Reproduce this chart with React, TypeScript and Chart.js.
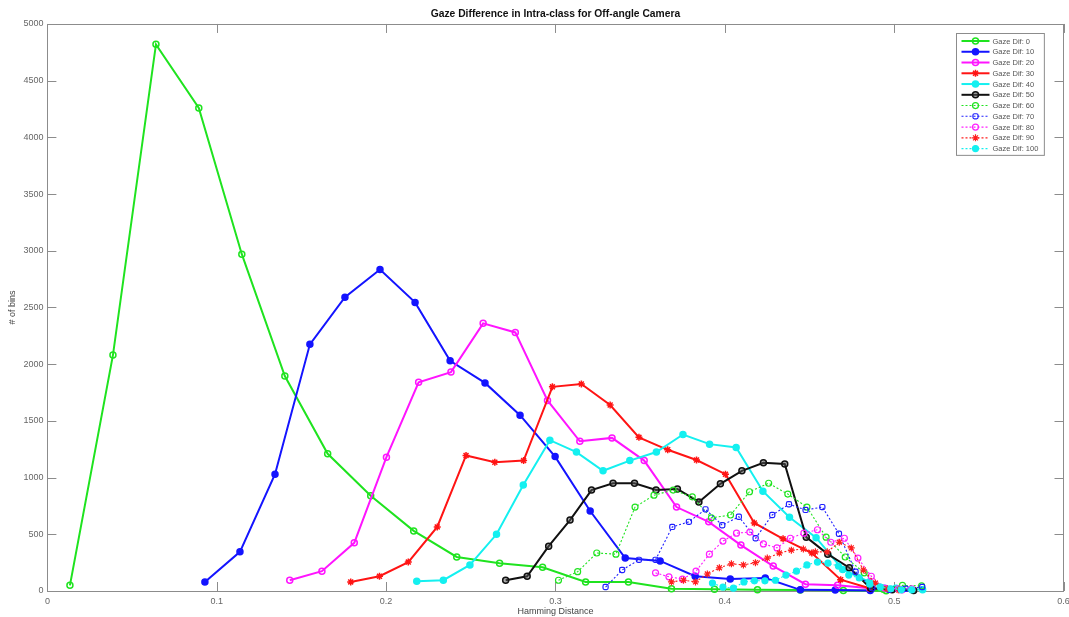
import React, { useEffect, useRef } from "react";
import { Chart, registerables } from "chart.js";
import { drawPoint } from "chart.js/helpers";

Chart.register(...registerables);

const TITLE = "Gaze Difference in Intra-class for Off-angle Camera";
const X_LABEL = "Hamming Distance";
const Y_LABEL = "# of bins";
const SERIES_NAMES = [
  "Gaze Dif: 0", "Gaze Dif: 10", "Gaze Dif: 20", "Gaze Dif: 30", "Gaze Dif: 40",
  "Gaze Dif: 50", "Gaze Dif: 60", "Gaze Dif: 70", "Gaze Dif: 80", "Gaze Dif: 90", "Gaze Dif: 100",
];

const xDif0 = [0.0133, 0.0387, 0.0641, 0.0894, 0.1148, 0.1402, 0.1655, 0.1909, 0.2163, 0.2417, 0.2670, 0.2924, 0.3178, 0.3431, 0.3685, 0.3939, 0.4193, 0.4446, 0.4700, 0.4953];
const yDif0 = [50, 2080, 4820, 4260, 2970, 1895, 1210, 840, 530, 300, 245, 210, 80, 80, 20, 15, 10, 8, 5, 3];

const xDif10 = [0.0930, 0.1137, 0.1344, 0.1550, 0.1757, 0.1964, 0.2171, 0.2378, 0.2584, 0.2791, 0.2998, 0.3205, 0.3412, 0.3618, 0.3825, 0.4032, 0.4239, 0.4446, 0.4652, 0.4859];
const yDif10 = [80, 345, 1030, 2175, 2590, 2835, 2545, 2030, 1835, 1550, 1185, 705, 290, 265, 130, 105, 115, 10, 8, 5];

const xDif20 = [0.1431, 0.1621, 0.1812, 0.2002, 0.2192, 0.2383, 0.2573, 0.2763, 0.2953, 0.3144, 0.3334, 0.3524, 0.3715, 0.3905, 0.4095, 0.4286, 0.4476, 0.4666, 0.4856, 0.5047];
const yDif20 = [95, 175, 425, 1180, 1840, 1930, 2360, 2280, 1680, 1320, 1350, 1150, 740, 610, 405, 220, 60, 50, 25, 10];

const xDif30 = [0.1791, 0.1961, 0.2131, 0.2302, 0.2472, 0.2642, 0.2812, 0.2982, 0.3153, 0.3323, 0.3493, 0.3663, 0.3833, 0.4004, 0.4174, 0.4344, 0.4514, 0.4684, 0.4855, 0.5025];
const yDif30 = [80, 130, 255, 565, 1195, 1135, 1150, 1800, 1825, 1640, 1355, 1245, 1155, 1030, 600, 460, 335, 100, 25, 10];

const xDif40 = [0.2181, 0.2338, 0.2495, 0.2652, 0.2810, 0.2967, 0.3124, 0.3281, 0.3439, 0.3596, 0.3753, 0.3910, 0.4067, 0.4225, 0.4382, 0.4539, 0.4696, 0.4853, 0.5011, 0.5168];
const yDif40 = [85, 95, 230, 500, 935, 1330, 1225, 1060, 1150, 1225, 1380, 1295, 1265, 880, 650, 470, 190, 80, 25, 10];

const xDif50 = [0.2706, 0.2833, 0.2960, 0.3086, 0.3213, 0.3340, 0.3467, 0.3594, 0.3720, 0.3847, 0.3974, 0.4101, 0.4228, 0.4354, 0.4481, 0.4608, 0.4735, 0.4862, 0.4988, 0.5115];
const yDif50 = [95, 130, 395, 625, 890, 950, 950, 890, 900, 785, 945, 1060, 1130, 1120, 475, 325, 205, 25, 10, 5];

const xDif60 = [0.3018, 0.3131, 0.3244, 0.3357, 0.3470, 0.3582, 0.3695, 0.3808, 0.3921, 0.4034, 0.4146, 0.4259, 0.4372, 0.4485, 0.4598, 0.4711, 0.4823, 0.4936, 0.5049, 0.5162];
const yDif60 = [95, 170, 335, 325, 740, 845, 890, 830, 645, 670, 875, 950, 855, 740, 475, 300, 160, 15, 50, 45];

const xDif70 = [0.3296, 0.3394, 0.3493, 0.3591, 0.3690, 0.3788, 0.3886, 0.3985, 0.4083, 0.4182, 0.4280, 0.4379, 0.4477, 0.4576, 0.4674, 0.4772, 0.4871, 0.4969, 0.5068, 0.5166];
const yDif70 = [35, 185, 275, 275, 565, 610, 720, 580, 655, 465, 670, 765, 715, 740, 505, 170, 25, 10, 20, 35];

const xDif80 = [0.3591, 0.3670, 0.3750, 0.3830, 0.3909, 0.3989, 0.4069, 0.4148, 0.4228, 0.4308, 0.4387, 0.4467, 0.4547, 0.4626, 0.4706, 0.4786, 0.4865, 0.4945, 0.5025, 0.5104];
const yDif80 = [160, 125, 105, 175, 325, 440, 510, 520, 415, 380, 465, 510, 540, 430, 465, 290, 130, 25, 20, 20];

const xDif90 = [0.3685, 0.3756, 0.3827, 0.3897, 0.3968, 0.4039, 0.4110, 0.4181, 0.4251, 0.4322, 0.4393, 0.4464, 0.4535, 0.4605, 0.4676, 0.4747, 0.4818, 0.4889, 0.4959, 0.5030];
const yDif90 = [80, 95, 80, 150, 205, 240, 230, 250, 290, 335, 360, 370, 345, 345, 430, 380, 185, 70, 20, 10];

const xDif100 = [0.3927, 0.3989, 0.4051, 0.4113, 0.4175, 0.4237, 0.4299, 0.4361, 0.4423, 0.4485, 0.4547, 0.4609, 0.4671, 0.4732, 0.4794, 0.4856, 0.4918, 0.4980, 0.5042, 0.5104];
const yDif100 = [70, 35, 25, 80, 90, 90, 95, 140, 175, 230, 255, 245, 220, 140, 115, 60, 35, 20, 10, 10];

const X_TICKS_MIN = 0;
const X_TICKS_MAX = 0.6;
const X_STEP = 0.1;
const Y_TICKS_MIN = 0;
const Y_TICKS_MAX = 5000;
const Y_STEP = 500;

const FONT = "'Liberation Sans', Arial, Helvetica, sans-serif";

const SERIES_X = [xDif0, xDif10, xDif20, xDif30, xDif40, xDif50, xDif60, xDif70, xDif80, xDif90, xDif100];
const SERIES_Y = [yDif0, yDif10, yDif20, yDif30, yDif40, yDif50, yDif60, yDif70, yDif80, yDif90, yDif100];

// style per series: color, solid/dashed, marker, filled
const STYLES = [
  { color: "#1fe31f", dashed: false, marker: "circle", fill: "rgba(255,255,255,0)" },
  { color: "#1414ff", dashed: false, marker: "circle", fill: "#1414ff" },
  { color: "#ff14ff", dashed: false, marker: "circle", fill: "rgba(255,255,255,0)" },
  { color: "#ff1414", dashed: false, marker: "star", fill: "#ff1414" },
  { color: "#14f0f0", dashed: false, marker: "circle", fill: "#14f0f0" },
  { color: "#111111", dashed: false, marker: "circle", fill: "rgba(90,90,90,0.5)" },
  { color: "#1fe31f", dashed: true, marker: "circle", fill: "rgba(255,255,255,0)" },
  { color: "#1f1fff", dashed: true, marker: "rectRounded", fill: "rgba(255,255,255,0)" },
  { color: "#ff1fff", dashed: true, marker: "circle", fill: "rgba(255,255,255,0)" },
  { color: "#ff1f1f", dashed: true, marker: "star", fill: "#ff1f1f" },
  { color: "#14f0f0", dashed: true, marker: "circle", fill: "#14f0f0" },
];

const framePlugin = {
  id: "matlabFrame",
  beforeDatasetsDraw(chart: any) {
    const { ctx, chartArea, scales } = chart;
    const { left, right, top, bottom } = chartArea;
    const x = scales.x;
    const y = scales.y;
    const TL = 9;
    ctx.save();
    ctx.strokeStyle = "#8c8c8c";
    ctx.lineWidth = 1;
    ctx.setLineDash([]);
    ctx.strokeRect(Math.round(left) + 0.5, Math.round(top) + 0.5, Math.round(right - left), Math.round(bottom - top));
    ctx.beginPath();
    x.ticks.forEach((t: any) => {
      const px = Math.round(x.getPixelForValue(t.value)) + 0.5;
      ctx.moveTo(px, bottom);
      ctx.lineTo(px, bottom - TL);
      ctx.moveTo(px, top);
      ctx.lineTo(px, top + TL);
    });
    y.ticks.forEach((t: any) => {
      const py = Math.round(y.getPixelForValue(t.value)) + 0.5;
      ctx.moveTo(left, py);
      ctx.lineTo(left + TL, py);
      ctx.moveTo(right, py);
      ctx.lineTo(right - TL, py);
    });
    ctx.stroke();
    ctx.restore();
  },
};

const legendPlugin = {
  id: "matlabLegend",
  afterDraw(chart: any) {
    const { ctx, chartArea } = chart;
    const datasets = chart.data.datasets;
    const fontSize = 7.5;
    ctx.save();
    ctx.font = `${fontSize}px ${FONT}`;
    let maxW = 0;
    datasets.forEach((d: any) => {
      maxW = Math.max(maxW, ctx.measureText(d.label).width);
    });
    const rowH = 10.76;
    const padL = 5;
    const lineLen = 28;
    const gap = 3;
    const boxW = padL + lineLen + gap + maxW + 6;
    const boxH = rowH * datasets.length + 3.5;
    const bx = Math.round(chartArea.right - 20 - boxW) + 0.5;
    const by = Math.round(chartArea.top + 9) + 0.5;
    ctx.fillStyle = "#ffffff";
    ctx.fillRect(bx, by, boxW, boxH);
    ctx.strokeStyle = "#8c8c8c";
    ctx.lineWidth = 1;
    ctx.strokeRect(bx, by, boxW, boxH);
    datasets.forEach((d: any, i: number) => {
      const cy = by + 7.5 + i * rowH;
      const x0 = bx + padL;
      ctx.save();
      ctx.strokeStyle = d.borderColor;
      ctx.lineWidth = d.borderWidth;
      ctx.setLineDash(d.borderDash || []);
      ctx.beginPath();
      ctx.moveTo(x0, cy);
      ctx.lineTo(x0 + lineLen, cy);
      ctx.stroke();
      ctx.setLineDash([]);
      ctx.fillStyle = d.pointBackgroundColor;
      ctx.strokeStyle = d.pointBorderColor;
      ctx.lineWidth = d.pointBorderWidth;
      drawPoint(ctx, { pointStyle: d.pointStyle, rotation: 0, radius: d.pointRadius, borderWidth: d.pointBorderWidth }, x0 + lineLen / 2, cy);
      ctx.restore();
      ctx.fillStyle = "#555555";
      ctx.textBaseline = "middle";
      ctx.textAlign = "left";
      ctx.fillText(d.label, x0 + lineLen + gap, cy + 0.5);
    });
    ctx.restore();
  },
};

export default function App() {
  const canvasRef = useRef<HTMLCanvasElement | null>(null);

  useEffect(() => {
    const canvas = canvasRef.current;
    if (!canvas) return;
    const datasets = SERIES_NAMES.map((name, i) => {
      const st = STYLES[i];
      return {
        label: name,
        data: SERIES_X[i].map((xv, k) => ({ x: xv, y: SERIES_Y[i][k] })),
        borderColor: st.color,
        backgroundColor: st.color,
        borderWidth: st.dashed ? 1.1 : 2,
        borderDash: st.dashed ? [2, 2] : [],
        pointStyle: st.marker,
        pointRadius: st.marker === "star" ? 3.5 : 3,
        pointBorderWidth: st.dashed ? 1.2 : 1.5,
        pointBorderColor: st.color,
        pointBackgroundColor: st.fill,
        tension: 0,
        fill: false,
        clip: 8,
        order: SERIES_NAMES.length - i,
      };
    });

    const chart = new Chart(canvas, {
      type: "line",
      data: { datasets },
      options: {
        animation: false,
        responsive: false,
        devicePixelRatio: 1,
        layout: { padding: { left: 0, right: 4.6, top: 0, bottom: 0 } },
        plugins: {
          legend: { display: false },
          tooltip: { enabled: false },
          title: {
            display: true,
            text: TITLE,
            fullSize: false,
            color: "#111111",
            font: { family: FONT, size: 10.3, weight: "bold", lineHeight: 1.2 },
            padding: { top: 7.8, bottom: 3.8 },
          },
        },
        scales: {
          x: {
            type: "linear",
            position: "bottom",
            min: X_TICKS_MIN,
            max: X_TICKS_MAX,
            grid: { display: false, drawTicks: false },
            border: { display: false },
            ticks: {
              stepSize: X_STEP,
              padding: 5,
              color: "#666666",
              maxRotation: 0,
              font: { family: FONT, size: 9 },
              callback: (v: any) => String(Math.round(Number(v) * 10) / 10),
            },
            title: {
              display: true,
              text: X_LABEL,
              color: "#444444",
              font: { family: FONT, size: 9 },
              padding: { top: 0, bottom: 0 },
            },
            afterFit: (s: any) => {
              s.height = 26;
              s.paddingLeft = 0;
              s.paddingRight = 0;
            },
          },
          y: {
            type: "linear",
            min: Y_TICKS_MIN,
            max: Y_TICKS_MAX,
            grid: { display: false, drawTicks: false },
            border: { display: false },
            ticks: {
              stepSize: Y_STEP,
              padding: 4,
              color: "#666666",
              font: { family: FONT, size: 9 },
              callback: (v: any) => String(v),
            },
            title: {
              display: true,
              text: Y_LABEL,
              color: "#444444",
              font: { family: FONT, size: 9 },
              padding: { top: 7, bottom: 0 },
            },
            afterFit: (s: any) => {
              s.width = 47.4;
              s.paddingTop = 0;
              s.paddingBottom = 0;
            },
          },
        },
      },
      plugins: [framePlugin, legendPlugin],
    } as any);

    return () => {
      chart.destroy();
    };
  }, []);

  return (
    <div style={{ position: "fixed", left: 0, top: 0, width: 1069, height: 617, background: "#ffffff" }}>
      <canvas ref={canvasRef} width={1069} height={617} style={{ display: "block" }} />
    </div>
  );
}
